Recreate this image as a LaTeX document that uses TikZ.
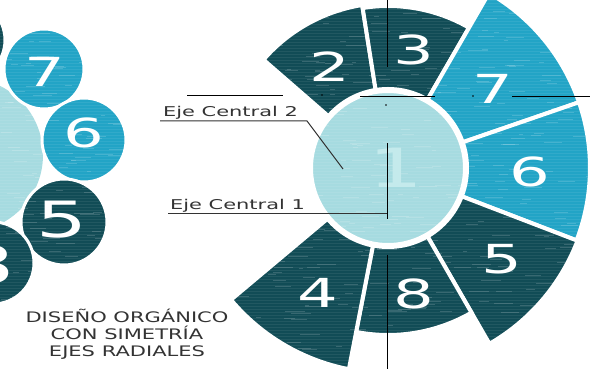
\documentclass[tikz,border=0pt]{standalone}
\usepackage{fontspec}
\setmainfont{DejaVu Sans}
\newfontfamily\labelfont[FakeStretch=1.55]{DejaVu Sans}
\newfontfamily\titlefont[FakeStretch=1.45]{DejaVu Sans}
\newfontfamily\digitfont[FakeStretch=1.6]{DejaVu Sans}
\usetikzlibrary{positioning}

\definecolor{tealdark}{HTML}{114C56}
\definecolor{tealblue}{HTML}{22A4C6}
\definecolor{tealpale}{HTML}{A6DBE0}
\definecolor{tealfaint}{HTML}{C4EAEC}
\definecolor{inkgray}{HTML}{333333}

\begin{document}
\begin{tikzpicture}[x=1pt, y=1pt,
    sector/.style={draw=white, line width=4pt},
    bubble/.style={draw=white, line width=3pt},
    streak/.style={white, opacity=0.16, line width=0.9pt},
    num/.style={font=\digitfont\fontsize{40}{40}\selectfont, text=white, inner sep=0pt},
    axis/.style={black, line width=0.8pt},
    lead/.style={inkgray, line width=1pt},
    eje/.style={font=\labelfont\fontsize{13.5}{14}\selectfont, text=inkgray, inner sep=0pt, anchor=base west}]
    \useasboundingbox (0,0) rectangle (590,369);
    \clip (0,0) rectangle (590,369);

    % small organic version on the left
    \fill[tealpale] (-34,214) circle[radius=77pt];
    \filldraw[bubble, fill=tealdark] (-36,329) circle[radius=41pt];
    \filldraw[bubble, fill=tealblue] (44,300) circle[radius=40pt];
    \filldraw[bubble, fill=tealblue] (84,229) circle[radius=42pt];
    \filldraw[bubble, fill=tealdark] (64,147) circle[radius=43pt];
    \filldraw[bubble, fill=tealdark] (-7,106) circle[radius=41pt];

    % radial sectors round the centre
    \coordinate (c) at (388,201);
    \begin{scope}[shift={(c)}]
        \foreach \a/\b/\r/\col in {139/99/165/tealdark, 99/60/162/tealdark, 60/19/202/tealblue,
                                   19/-21/202/tealblue, -21/-60/203/tealdark, -60/-101/167/tealdark,
                                   -101/-140/205/tealdark}
            \filldraw[sector, fill=\col] (\a:78pt) -- (\a:\r pt)
                arc[start angle=\a, end angle=\b, radius=\r pt] -- (\b:78pt)
                arc[start angle=\b, end angle=\a, radius=78pt] -- cycle;
    \end{scope}
    \filldraw[fill=tealpale, draw=white, line width=6pt] (c) circle[radius=78pt];

    % brushed texture
    \foreach \y in {0,3,...,369}
        \draw[white, opacity=0.07, line width=0.6pt] (0,\y) -- (590,\y);
    \pgfmathsetseed{11}
    \foreach \i in {1,...,700}{
        \pgfmathsetmacro{\sx}{random(0,590)}
        \pgfmathsetmacro{\sy}{random(0,369)}
        \pgfmathsetmacro{\sl}{random(4,20)}
        \draw[streak] (\sx,\sy) -- ++(\sl,0);
    }

    \node[num] (s7) at (45,297) {7};
    \node[num] (s6) at (84,236) {6};
    \node[num, font=\digitfont\fontsize{50}{50}\selectfont] (s5) at (62,149) {5};
    \node[num, font=\digitfont\fontsize{52}{52}\selectfont] (s8) at (-12,104) {8};

    \node[num] (n2) at (330,302) {2};
    \node[num] (n3) at (414,319) {3};
    \node[num] (n7) at (493,280) {7};
    \node[num] (n6) at (530,197) {6};
    \node[num] (n5) at (502,110) {5};
    \node[num] (n8) at (414,75) {8};
    \node[num] (n4) at (318,76) {4};
    \node[num, font=\digitfont\fontsize{54}{54}\selectfont, text=tealfaint] (n1) at (396,201) {1};

    % axes
    \draw[axis] (387,369) -- (387,302);
    \draw[axis] (387,226) -- (387,150);
    \draw[axis] (387,114) -- (387,0);
    \draw[axis] (187,274) -- (283,274);
    \draw[axis] (360,273) -- (435,273);
    \draw[axis] (512,273) -- (590,273);
    \fill (322,274) circle[radius=0.9pt];
    \fill (386,264) circle[radius=0.9pt];
    \fill (473,273) circle[radius=0.9pt];

    % labels
    \node[eje] (e2) at (163,252) {Eje Central 2};
    \node[eje] (e1) at (170,159) {Eje Central 1};
    \coordinate (e2tip) at (343,200);
    \draw[lead] (e2.base west) ++(-3,-4) -- ++(147,0) -- (e2tip);
    \draw[lead] (e1.base west) ++(-2,-4) -- (387,155);

    \node[font=\titlefont\fontsize{14.5}{17}\selectfont, text=inkgray, align=center, inner sep=0pt]
        (title) at (127,35) {DISEÑO ORGÁNICO\\CON SIMETRÍA\\EJES RADIALES};
\end{tikzpicture}
\end{document}
